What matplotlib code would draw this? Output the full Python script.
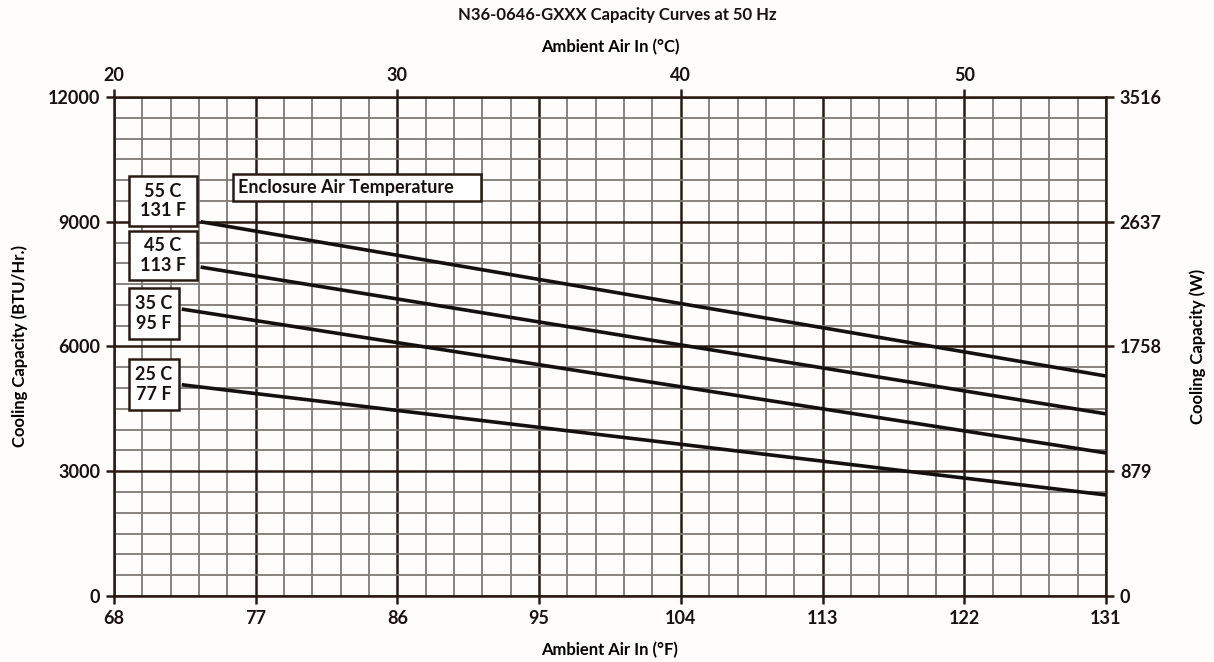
import matplotlib.pyplot as plt
import numpy as np
from matplotlib.ticker import FixedLocator

plt.rcParams['font.family'] = ['Lato', 'DejaVu Sans']
plt.rcParams['font.weight'] = 'bold'
plt.rcParams['axes.labelweight'] = 'bold'

# axis ticks
f_ticks = [68, 77, 86, 95, 104, 113, 122, 131]
c_ticks = [20, 30, 40, 50]
btu_ticks = [0, 3000, 6000, 9000, 12000]
w_ticks = [0, 879, 1758, 2637, 3516]

# curves: (start F, end F), (start BTU, end BTU)
curve_names = ['55 C\n131 F', '45 C\n113 F', '35 C\n95 F', '25 C\n77 F']
curve_x = [[73.5, 131], [73.5, 131], [72.3, 131], [72.3, 131]]
curve_y = [[9000, 5290], [7910, 4380], [6900, 3440], [5080, 2430]]

ink = '#2a1a12'
bg = '#fffdfb'

fig = plt.figure(figsize=(12.14, 6.62), dpi=100, facecolor=bg)
ax = fig.add_axes([0.0939, 0.0997, 0.8171, 0.7538], facecolor=bg)

ax.set_xlim(68, 131)
ax.set_ylim(0, 12000)

# grid
ax.xaxis.set_major_locator(FixedLocator(f_ticks))
ax.yaxis.set_major_locator(FixedLocator(btu_ticks))
ax.xaxis.set_minor_locator(FixedLocator(np.linspace(68, 131, 36)))
ax.yaxis.set_minor_locator(FixedLocator(np.linspace(0, 12000, 25)))
ax.grid(which='minor', color='#807a76', lw=1.3, zorder=0)
ax.grid(which='major', color=ink, lw=1.8, zorder=1)
ax.set_axisbelow(True)

for s in ax.spines.values():
    s.set_color(ink)
    s.set_linewidth(1.8)

ax.tick_params(which='minor', length=0)
ax.tick_params(which='major', length=6, width=1.8, color=ink,
               labelsize=13, labelcolor='#1a1010', pad=4)

for xs, ys in zip(curve_x, curve_y):
    ax.plot(xs, ys, color='#151010', lw=2.6, zorder=3, solid_capstyle='butt')

# boxed labels
box_pos = [(129, 176, 197, 226), (129, 231, 197, 280),
           (129, 288, 179, 339), (129, 359, 179, 410)]
for name, (x0, y0, x1, y1) in zip(curve_names, box_pos):
    fx = 68 + (x0 - 114) / 15.746
    fx1 = 68 + (x1 - 114) / 15.746
    by0 = (596 - y1) / 499 * 12000
    by1 = (596 - y0) / 499 * 12000
    ax.add_patch(plt.Rectangle((fx, by0), fx1 - fx, by1 - by0, facecolor='white',
                               edgecolor=ink, lw=1.8, zorder=4))
    ax.text((fx + fx1) / 2, (by0 + by1) / 2, name, ha='center', va='center',
            fontsize=13, color='#1a1010', zorder=5, linespacing=1.15)

fx = 68 + (233 - 114) / 15.746
fx1 = 68 + (481 - 114) / 15.746
by0 = (596 - 201) / 499 * 12000
by1 = (596 - 174) / 499 * 12000
ax.add_patch(plt.Rectangle((fx, by0), fx1 - fx, by1 - by0, facecolor='white',
                           edgecolor=ink, lw=1.8, zorder=4))
ax.text(fx + 0.3, (by0 + by1) / 2, 'Enclosure Air Temperature', ha='left', va='center',
        fontsize=13, color='#1a1010', zorder=5)

# secondary axes
top = ax.secondary_xaxis('top', functions=(lambda f: (f - 32) / 1.8, lambda c: c * 1.8 + 32))
top.xaxis.set_major_locator(FixedLocator(c_ticks))
top.tick_params(length=6, width=1.8, color=ink, labelsize=13, labelcolor='#1a1010', pad=3)
top.spines['top'].set_visible(False)
top.set_xlabel('Ambient Air In (°C)', fontsize=12, labelpad=11)

right = ax.secondary_yaxis('right', functions=(lambda b: b * 3516 / 12000, lambda w: w * 12000 / 3516))
right.yaxis.set_major_locator(FixedLocator(w_ticks))
right.tick_params(length=6, width=1.8, color=ink, labelsize=13, labelcolor='#1a1010', pad=4)
right.spines['right'].set_visible(False)
right.set_ylabel('Cooling Capacity (W)', fontsize=12, labelpad=20)

ax.set_xlabel('Ambient Air In (°F)', fontsize=12, labelpad=11)
ax.set_ylabel('Cooling Capacity (BTU/Hr.)', fontsize=12, labelpad=14)

fig.text(0.5085, 0.978, 'N36-0646-GXXX Capacity Curves at 50 Hz', ha='center', va='center',
         fontsize=12, color='#1a1010')

fig.savefig('out.png', dpi=100, facecolor=bg)
